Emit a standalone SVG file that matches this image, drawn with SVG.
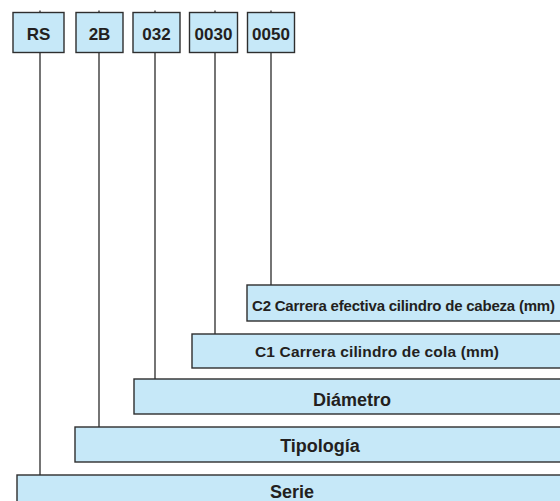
<svg xmlns="http://www.w3.org/2000/svg" width="560" height="501" viewBox="0 0 560 501">
  <style>
    .box { fill: #c6e8f8; stroke: #2e2e2e; stroke-width: 1.4; }
    .lead { stroke: #3a3a3a; stroke-width: 1.4; fill: none; }
    .code { font-family: "Liberation Sans", Arial, sans-serif; font-weight: bold; font-size: 17px; fill: #231f20; text-anchor: middle; }
    .label { font-family: "Liberation Sans", Arial, sans-serif; font-weight: bold; fill: #231f20; }
    .big { font-size: 18px; text-anchor: middle; }
  </style>
  <rect width="560" height="501" fill="#ffffff"/>

  <!-- leader lines from each code box down to its description bar -->
  <g id="connectors">
    <line class="lead" x1="40" y1="10.5" x2="40" y2="475"/>
    <line class="lead" x1="99" y1="10.5" x2="99" y2="427"/>
    <line class="lead" x1="155" y1="10.5" x2="155" y2="379"/>
    <line class="lead" x1="215" y1="10.5" x2="215" y2="334"/>
    <line class="lead" x1="271" y1="10.5" x2="271" y2="285"/>
  </g>

  <!-- code boxes -->
  <g id="code-rs">
    <rect class="box" x="13" y="12.5" width="51" height="40"/>
    <text class="code" x="38.5" y="40">RS</text>
  </g>
  <g id="code-2b">
    <rect class="box" x="76" y="12.5" width="47" height="40"/>
    <text class="code" x="99.5" y="40">2B</text>
  </g>
  <g id="code-032">
    <rect class="box" x="133" y="12.5" width="47" height="40"/>
    <text class="code" x="156.5" y="40">032</text>
  </g>
  <g id="code-0030">
    <rect class="box" x="189.5" y="12.5" width="48" height="40"/>
    <text class="code" x="213.5" y="40">0030</text>
  </g>
  <g id="code-0050">
    <rect class="box" x="247.5" y="12.5" width="47" height="40"/>
    <text class="code" x="271" y="40">0050</text>
  </g>

  <!-- description bars -->
  <g id="bar-c2">
    <rect class="box" x="247" y="285" width="330" height="36"/>
    <text class="label" x="252" y="310.5" font-size="15" textLength="303" lengthAdjust="spacing">C2 Carrera efectiva cilindro de cabeza (mm)</text>
  </g>
  <g id="bar-c1">
    <rect class="box" x="192" y="334" width="385" height="34"/>
    <text class="label" x="255" y="357" font-size="15.5" textLength="244" lengthAdjust="spacing">C1 Carrera cilindro de cola (mm)</text>
  </g>
  <g id="bar-diametro">
    <rect class="box" x="134" y="379" width="443" height="35"/>
    <text class="label big" x="352" y="406">Diámetro</text>
  </g>
  <g id="bar-tipologia">
    <rect class="box" x="75" y="427" width="502" height="35"/>
    <text class="label big" x="320" y="452">Tipología</text>
  </g>
  <g id="bar-serie">
    <rect class="box" x="17" y="475" width="560" height="40"/>
    <text class="label big" x="292" y="498">Serie</text>
  </g>
</svg>
